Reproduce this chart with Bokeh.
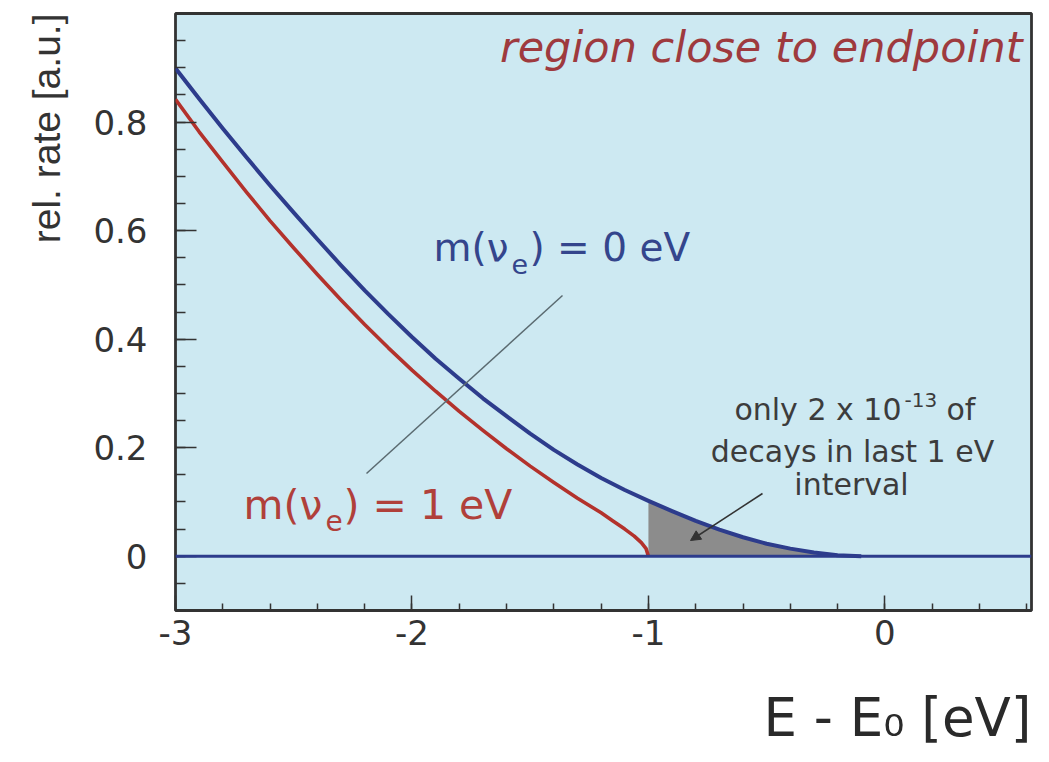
import math
from bokeh.plotting import figure
from bokeh.models import (Range1d, Label, Span, FixedTicker, CustomJSTickFormatter,
                          Arrow, NormalHead, Title)
from bokeh.embed import file_html
from bokeh.resources import INLINE

# ---------------- data ----------------
blue_x = [-3.0, -2.9, -2.8, -2.7, -2.6, -2.5, -2.4, -2.3, -2.2, -2.1, -2.0,
          -1.9, -1.8, -1.7, -1.6, -1.5, -1.4, -1.3, -1.2, -1.1, -1.0,
          -0.9, -0.8, -0.7, -0.6, -0.5, -0.4, -0.3, -0.2, -0.1]
blue_y = [0.899, 0.843, 0.788, 0.735, 0.683, 0.633, 0.584, 0.536, 0.490, 0.446, 0.404,
          0.364, 0.327, 0.291, 0.258, 0.226, 0.196, 0.169, 0.144, 0.122, 0.102,
          0.083, 0.065, 0.049, 0.035, 0.023, 0.014, 0.007, 0.002, 0.0]

red_x = [-3.0, -2.9, -2.8, -2.7, -2.6, -2.5, -2.4, -2.3, -2.2, -2.1, -2.0,
         -1.9, -1.8, -1.7, -1.6, -1.5, -1.4, -1.3, -1.2, -1.15, -1.1, -1.06,
         -1.03, -1.01, -1.0]
red_y = [0.842, 0.782, 0.726, 0.671, 0.618, 0.568, 0.519, 0.472, 0.427, 0.384, 0.343,
         0.304, 0.267, 0.232, 0.198, 0.166, 0.136, 0.107, 0.080, 0.065, 0.050, 0.037,
         0.025, 0.014, 0.0]

x_major = [-3, -2, -1, 0]
x_minor = [-3.0, -2.8, -2.6, -2.4, -2.2, -2.0, -1.8, -1.6, -1.4, -1.2, -1.0,
           -0.8, -0.6, -0.4, -0.2, 0.0, 0.2, 0.4, 0.6]
y_major = [0, 0.2, 0.4, 0.6, 0.8]
y_minor = [-0.1, -0.05, 0.0, 0.05, 0.1, 0.15, 0.2, 0.25, 0.3, 0.35, 0.4, 0.45, 0.5,
           0.55, 0.6, 0.65, 0.7, 0.75, 0.8, 0.85, 0.9, 0.95]

fill_start = -1.0  # shaded "last 1 eV" interval starts here

# ---------------- layout ----------------
XMIN, XMAX, YMIN, YMAX = -3.0, 0.62, -0.1, 1.0
FL, FR, FT, FB = 175, 1031, 13, 610   # frame edges in pixels


def X(px):
    return XMIN + (px - FL) * (XMAX - XMIN) / (FR - FL)


def Y(py):
    return YMIN + (FB - py) * (YMAX - YMIN) / (FB - FT)


BG = "#cde9f2"
BLUE = "#2d3c8c"
RED = "#b3322c"
GREY_TXT = "#3c3c3c"
FONT = "DejaVu Sans"

p = figure(frame_width=FR - FL, frame_height=FB - FT,
           min_border_left=FL, min_border_right=10, min_border_top=FT,
           min_border_bottom=760 - FB,
           x_range=Range1d(XMIN, XMAX), y_range=Range1d(YMIN, YMAX),
           output_backend="svg", toolbar_location=None, tools="")

p.background_fill_color = BG
p.border_fill_color = "white"
p.outline_line_color = "#333333"
p.outline_line_width = 2.8
p.grid.visible = False

# axes
xa = p.xaxis[0]
xa.ticker = FixedTicker(ticks=x_major, minor_ticks=x_minor)
xa.formatter = CustomJSTickFormatter(code="return tick.toFixed(0);")
xa.axis_line_color = None
xa.major_tick_in = 15
xa.major_tick_out = 0
xa.minor_tick_in = 7
xa.minor_tick_out = 0
xa.major_tick_line_color = "#333333"
xa.minor_tick_line_color = "#333333"
xa.major_tick_line_width = 1.5
xa.minor_tick_line_width = 1.5
xa.major_label_text_font = FONT
xa.major_label_text_font_size = "34px"
xa.major_label_text_color = "#333333"
xa.major_label_standoff = 9

ya = p.yaxis[0]
ya.ticker = FixedTicker(ticks=y_major, minor_ticks=y_minor)
ya.formatter = CustomJSTickFormatter(code="return tick == 0 ? '0' : tick.toFixed(1);")
ya.axis_line_color = None
ya.major_tick_in = 21
ya.major_tick_out = 0
ya.minor_tick_in = 10
ya.minor_tick_out = 0
ya.major_tick_line_color = "#333333"
ya.minor_tick_line_color = "#333333"
ya.major_tick_line_width = 1.5
ya.minor_tick_line_width = 1.5
ya.major_label_text_font = FONT
ya.major_label_text_font_size = "34px"
ya.major_label_text_color = "#333333"
ya.major_label_standoff = 28

# axis titles as side-panel titles (not clipped by the frame)
p.add_layout(Title(text="E - E\u2080 [eV]", align="right", text_font=FONT,
                   text_font_size="53px", text_font_style="normal",
                   text_color="#2a2a2a", standoff=74), "below")
p.add_layout(Title(text="rel. rate [a.u.]", align="right", text_font="Liberation Sans",
                   text_font_size="39px", text_font_style="normal",
                   text_color="#333333", standoff=45), "left")

# shaded area in the last 1 eV
fx = [x for x in blue_x if x >= fill_start]
fy = [y for x, y in zip(blue_x, blue_y) if x >= fill_start]
p.varea(x=fx, y1=[0.0] * len(fx), y2=fy, fill_color="#8c8c8c", fill_alpha=1.0)

# baseline at zero
p.add_layout(Span(location=0, dimension="width", line_color=BLUE, line_width=3))

p.line(red_x, red_y, line_color=RED, line_width=3.6, line_join="round")
p.line(blue_x, blue_y, line_color=BLUE, line_width=4, line_join="round")

# leader lines
p.add_layout(Arrow(end=None, x_start=X(366), y_start=Y(473), x_end=X(562), y_end=Y(295),
                   line_color="#5a6a70", line_width=1.5))
p.add_layout(Arrow(end=NormalHead(size=10, fill_color="#333333", line_color="#333333"),
                   x_start=X(762), y_start=Y(493), x_end=X(690), y_end=Y(540),
                   line_color="#333333", line_width=1.5))


def lab(px, py, text, size, color, align="left", style="normal", font=FONT,
        baseline="alphabetic", angle=0.0):
    # empirical correction of the rendered baseline position
    py = py - round(0.38 * size)
    p.add_layout(Label(x=X(px), y=Y(py), text=text, text_font=font,
                       text_font_size=f"{size}px", text_color=color,
                       text_align=align, text_baseline=baseline,
                       text_font_style=style, angle=angle))


# title inside the plot
lab(1022, 62, "region close to endpoint", 43, "#9e3a3e", align="right", style="italic")

# m(nu_e) = 0 eV (blue)
lab(433, 262, "m(\u03bd", 39, "#34458c")
lab(511, 273, "e", 27, "#34458c")
lab(529, 262, ") = 0 eV", 39, "#34458c")

# m(nu_e) = 1 eV (red)
lab(243, 520, "m(\u03bd", 41, "#b0403a")
lab(325, 531, "e", 28, "#b0403a")
lab(343, 520, ") = 1 eV", 41, "#b0403a")

# annotation
lab(901, 420, "only 2 x 10", 30, GREY_TXT, align="right")
lab(904, 407, "-13", 20, GREY_TXT)
lab(946, 420, "of", 30, GREY_TXT)
lab(852, 462, "decays in last 1 eV", 30, GREY_TXT, align="center")
lab(851, 495, "interval", 30, GREY_TXT, align="center")

open("out.html", "w").write(file_html(p, INLINE))
